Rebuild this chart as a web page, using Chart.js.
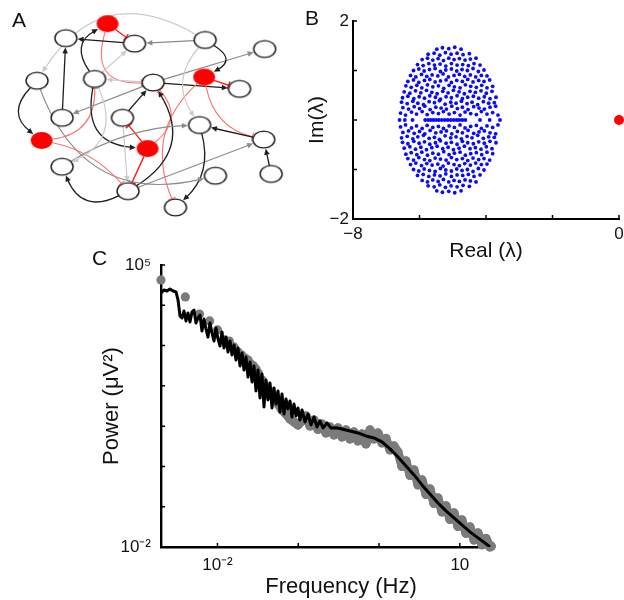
<!DOCTYPE html>
<html lang="en">
<head>
<meta charset="UTF-8">
<title>Network, eigenvalues and power spectrum</title>
<script src="https://cdn.jsdelivr.net/npm/chart.js@4"></script>
<style>
  body { margin: 0; background: #fff; width: 624px; height: 600px; position: relative; overflow: hidden;
         font-family: "Liberation Sans", Arial, sans-serif; color: #111; }
  .box { position: absolute; }
  .tag { position: absolute; font-size: 21px; line-height: 21px; }
  .cap { position: absolute; font-size: 22px; line-height: 22px; text-align: center; }
</style>
</head>
<body>
<div class="box" style="left:0px;top:0px"><canvas id="netChart" width="310" height="232"></canvas></div>
<div class="box" style="left:300px;top:0px"><canvas id="eigChart" width="329" height="270"></canvas></div>
<div class="box" style="left:90px;top:240px"><canvas id="psdChart" width="430" height="360"></canvas></div>
<div class="tag" style="left:12px;top:9px">A</div>
<div class="tag" style="left:305px;top:7px">B</div>
<div class="tag" style="left:92px;top:247px">C</div>
<div class="cap" style="left:191px;top:575px;width:300px">Frequency (Hz)</div>

<script>
// ---- panel A: network (node positions in layout units, red = inhibitory node)
const nodeX = [104, 59, 133, 209, 273, 28, 90, 153, 208, 246, 55, 120, 203, 33, 147, 272, 55, 220, 280, 126, 177];
const nodeY = [14, 30, 36, 32, 42, 77, 75, 79, 73, 86, 118, 118, 126, 143, 152, 142, 172, 182, 180, 199, 217];
const nodeRed = [1, 0, 0, 0, 0, 0, 0, 0, 1, 0, 0, 0, 0, 1, 1, 0, 0, 0, 0, 0, 0];

// [from, to, kind, bend]  k = black, g = grey, l = light grey, r/p = inhibitory
const edges = [
  [0, 2, 'r', 0], [6, 0, 'k', -0.55], [0, 7, 'p', 0.7], [3, 5, 'l', 0.48],
  [3, 2, 'g', 0], [2, 1, 'k', 0], [10, 1, 'k', 0], [6, 2, 'l', 0],
  [5, 13, 'k', 0.55], [13, 6, 'p', 0.45], [6, 14, 'k', 0.56], [7, 6, 'l', 0],
  [7, 10, 'g', 0], [7, 4, 'g', 0], [7, 9, 'k', 0], [3, 8, 'k', -0.85],
  [8, 9, 'r', 0], [8, 15, 'p', 0.32], [8, 20, 'p', 0.35], [3, 12, 'l', 0.38],
  [11, 7, 'k', 0], [14, 11, 'r', 0], [14, 19, 'r', 0], [14, 7, 'p', 0.52],
  [19, 7, 'k', 0.49], [11, 19, 'l', 0], [19, 16, 'k', -0.53], [19, 15, 'g', 0],
  [16, 12, 'g', -0.13], [15, 12, 'k', 0], [18, 15, 'k', 0], [12, 20, 'k', -0.3],
  [5, 17, 'g', 0.44], [13, 19, 'p', -0.17], [6, 16, 'l', -0.49]
];

// ---- panel B: eigenvalues (upper half plane; the conjugates mirror them)
const eigUpper = [
  [-6.57,0.14],[-6.42,0.10],[-6.24,0.16],[-6.09,0.12],[-5.92,0.17],[-5.77,0.11],[-5.60,0.15],[-5.43,0.13],[-5.28,0.17],[-5.11,0.12],
  [-4.95,0.15],[-4.78,0.10],[-4.63,0.16],[-4.46,0.13],[-4.29,0.11],[-4.14,0.17],[-3.97,0.12],[-3.80,0.15],[-3.64,0.10],
  [-6.50,0.25],[-6.33,0.22],[-6.16,0.27],[-6.00,0.23],[-5.84,0.28],[-5.68,0.21],[-5.51,0.26],[-5.35,0.24],[-5.19,0.22],
  [-5.03,0.28],[-4.86,0.23],[-4.71,0.26],[-4.54,0.21],[-4.37,0.27],[-4.21,0.24],[-4.05,0.22],[-3.88,0.26],[-3.71,0.28],
  [-6.54,0.36],[-6.37,0.33],[-6.20,0.38],[-6.05,0.34],[-5.88,0.31],[-5.71,0.37],[-5.55,0.35],[-5.40,0.39],[-5.23,0.32],
  [-5.06,0.36],[-4.90,0.34],[-4.74,0.38],[-4.57,0.33],[-4.42,0.36],[-4.25,0.31],[-4.08,0.37],[-3.92,0.34],[-3.75,0.35],
  [-6.51,0.45],[-6.35,0.48],[-6.17,0.43],[-6.01,0.47],[-5.85,0.44],[-5.69,0.49],[-5.52,0.46],[-5.37,0.42],[-5.20,0.47],
  [-5.04,0.45],[-4.87,0.49],[-4.71,0.43],[-4.55,0.46],[-4.38,0.48],[-4.22,0.44],[-4.05,0.47],[-3.88,0.43],[-3.70,0.46],
  [-6.46,0.57],[-6.29,0.54],[-6.12,0.59],[-5.96,0.55],[-5.79,0.60],[-5.63,0.56],[-5.47,0.53],[-5.30,0.58],[-5.14,0.55],
  [-4.98,0.60],[-4.81,0.57],[-4.65,0.53],[-4.48,0.58],[-4.32,0.56],[-4.15,0.59],[-3.99,0.54],[-3.82,0.58],
  [-6.41,0.69],[-6.25,0.66],[-6.08,0.70],[-5.93,0.65],[-5.76,0.71],[-5.60,0.67],[-5.43,0.69],[-5.27,0.64],[-5.11,0.70],
  [-4.95,0.67],[-4.78,0.65],[-4.62,0.71],[-4.46,0.68],[-4.29,0.66],[-4.13,0.70],[-3.97,0.65],[-3.80,0.68],
  [-6.35,0.78],[-6.18,0.81],[-6.02,0.76],[-5.85,0.80],[-5.69,0.82],[-5.53,0.77],[-5.37,0.79],[-5.20,0.81],
  [-5.04,0.76],[-4.88,0.80],[-4.71,0.78],[-4.55,0.82],[-4.39,0.77],[-4.22,0.80],[-4.06,0.78],[-3.89,0.81],
  [-6.27,0.90],[-6.11,0.87],[-5.94,0.92],[-5.78,0.88],[-5.62,0.91],[-5.45,0.89],[-5.29,0.93],[-5.13,0.87],
  [-4.96,0.90],[-4.80,0.92],[-4.64,0.88],[-4.47,0.91],[-4.31,0.87],[-4.14,0.90],[-3.97,0.89],
  [-6.18,1.00],[-6.02,1.03],[-5.86,0.99],[-5.70,1.02],[-5.53,1.04],[-5.37,0.98],[-5.21,1.01],
  [-5.04,1.03],[-4.88,0.99],[-4.72,1.02],[-4.56,1.00],[-4.39,1.04],[-4.23,0.98],[-4.06,1.01],
  [-6.06,1.12],[-5.89,1.10],[-5.72,1.14],[-5.55,1.11],[-5.38,1.13],[-5.21,1.09],
  [-5.04,1.14],[-4.87,1.11],[-4.70,1.12],[-4.53,1.10],[-4.36,1.14],[-4.18,1.11],
  [-5.92,1.22],[-5.76,1.25],[-5.60,1.21],[-5.44,1.24],[-5.28,1.20],[-5.12,1.25],
  [-4.96,1.22],[-4.80,1.24],[-4.63,1.21],[-4.47,1.23],[-4.30,1.25],
  [-5.74,1.33],[-5.56,1.35],[-5.39,1.31],[-5.22,1.36],[-5.05,1.33],[-4.87,1.35],[-4.69,1.32],[-4.50,1.34],
  [-5.48,1.43],[-5.31,1.46],[-5.12,1.44],[-4.94,1.47],[-4.75,1.43]
];
const realEig = [-6.60, -6.44, -6.21, -5.83, -5.74, -5.66, -5.58, -5.50, -5.42, -5.33, -5.24, -5.15,
                 -5.06, -4.97, -4.88, -4.80, -4.71, -4.62, -4.18, -3.89, -3.58];
const leadEig = [[0, 0]];
const reTicks = [-8, -6, -4, -2, 0];
const reLabels = ['\u22128', '', '', '', '0'];
const imTicks = [-2, -1, 0, 1, 2];
const imLabels = ['\u22122', '', '', '', '2'];

// ---- panel C: power spectrum
const blackFreq = [0.002,0.00218,0.00237,0.00258,0.00282,0.00307,0.00325,0.00344,
  0.00364,0.00385,0.00408,0.00432,0.00457,0.00484,0.00512,0.00542,0.00574,0.00608,
  0.00643,0.00681,0.00721,0.00763,0.00808,0.00856,0.00906,0.00959,0.01015,0.01075,
  0.01138,0.01204,0.01275,0.0135,0.01429,0.01513,0.01602,0.01695,0.01795,0.019,
  0.02012,0.0213,0.02254,0.02387,0.02527,0.02675,0.02831,0.02997,0.03173,
  0.0336,0.03557,0.03765,0.03986,0.0422,0.04467,0.0473,0.05007,0.053,0.05611,
  0.0594,0.06288,0.06657,0.07047,0.07461,0.07899,0.08362,0.08852,0.09371,0.0992,
  0.105,0.1112,0.1211,0.1319,0.1437,0.1565,0.1705,0.1857,0.2023,
  0.2268,0.2541,0.293,0.3478,0.4366,0.5483,0.6887,0.8651,1.087,1.366,1.715,2.154,
  2.706,3.399,4.269,5.362,6.735,8.459,10.62,13.34,16.76,20.46,23.6];
const blackPower = [2.02e4,2.40e4,2.26e4,2.54e4,2.26e4,2.14e4,1.35e4,5430,
  4840,7220,4080,6440,3850,6820,7650,3640,4840,5740,
  2300,4570,2580,1630,3640,2060,1300,2730,1460,977,
  2180,872,1630,694,1300,584,1035,439,872,312,
  655,248,521,166,392,125,312,74.7,248,
  50.1,197,30.0,140,44.7,118,28.3,88.7,35.6,74.7,
  22.5,63.0,20.1,47.3,26.7,42.2,16.9,35.6,17.9,28.3,
  14.2,25.2,12.7,20.1,10.7,16.9,9.55,13.5,9.02,
  12.0,9.02,9.1,8.52,7.60,6.78,5.71,5.10,4.05,2.72,1.72,1.03,
  0.615,0.348,0.208,0.124,0.0787,0.0527,0.0354,0.0237,0.0168,0.0126,0.01006];
const greyFreq = [0.002,0.004,0.006,0.008,0.010,0.012,0.014,0.016,0.018,0.020,0.022,0.024,0.026,0.028,0.030,0.032,
  0.03557,0.03986,0.04467,0.05007,0.05611,0.06288,0.07047,0.07899,0.08852,0.0992,
  0.1112,0.1246,0.1396,0.1565,0.1754,0.1966,0.2204,0.247,0.2768,0.3102,0.3478,0.3896,
  0.4366,0.4893,0.5483,0.6146,0.6887,0.772,0.8651,0.9696,1.087,1.218,1.366,1.53,
  1.715,1.922,2.154,2.414,2.706,3.032,3.399,3.808,4.269,4.782,5.362,6.008,6.735,7.546,
  8.459,9.48,10.62,11.91,13.34,14.96,16.76,18.79,21.06,23.6,24.5];
const greyPower = [4.25e4,1.61e4,6080,4080,2440,1380,1300,923,694,584,492,439,349,312,263,209,
  140,99.4,70.6,50.1,35.6,25.2,20.1,15.1,12.7,10.7,
  13.5,17.9,10.1,14.2,8.28,11.3,6.78,9.55,6.05,9.02,5.40,8.05,
  4.81,7.18,4.29,6.41,3.62,8.05,4.81,6.78,3.83,4.95,2.57,3.23,
  2.29,1.0,1.37,0.598,0.819,0.348,0.462,0.202,0.276,0.121,0.165,0.0743,0.105,0.0484,
  0.0702,0.0325,0.047,0.0218,0.0315,0.015,0.0224,0.0113,0.0163,0.0100,0.0105];
const freqTicks = [0.01, 0.1, 1, 10];
const freqLabels = ['10\u207B\u00B2', '', '', '10'];
const powerTicks = [0.01, 0.1, 1, 10, 100, 1e3, 1e4, 1e5];
const powerLabels = ['10\u207B\u00B2', '', '', '', '', '', '', '10\u2075'];
const GREY = '#7b7b7b';
const bandStart = 17;   // grey samples from here on merge into a continuous band

Chart.defaults.font.family = '"Liberation Sans", Arial, sans-serif';
Chart.defaults.color = '#111';

// short tick marks pointing into the plot
const innerTicks = {
  id: 'innerTicks',
  afterDatasetsDraw(chart, args, opts) {
    const { ctx, chartArea: a, scales: { x, y } } = chart;
    ctx.save();
    ctx.strokeStyle = '#000';
    ctx.lineWidth = opts.width;
    ctx.beginPath();
    x.ticks.forEach(t => {
      const p = x.getPixelForValue(t.value);
      ctx.moveTo(p, a.bottom); ctx.lineTo(p, a.bottom - opts.len);
    });
    y.ticks.forEach(t => {
      const p = y.getPixelForValue(t.value);
      ctx.moveTo(a.left, p); ctx.lineTo(a.left + opts.len, p);
    });
    ctx.stroke();
    ctx.restore();
  }
};

const edgeStyle = {
  k: { color: '#1e1e1e', width: 1.3, head: 'arrow' },
  g: { color: '#8c8c8c', width: 1.2, head: 'arrow' },
  l: { color: '#cbcbcb', width: 1.2, head: 'arrow' },
  r: { color: '#ff1e1e', width: 1.4, head: 'bar' },
  p: { color: '#ff7070', width: 1.1, head: 'bar' }
};

// curved links with arrow / bar heads, drawn under the nodes
const edgePlugin = {
  id: 'edges',
  beforeDatasetsDraw(chart) {
    const { ctx, scales: { x, y } } = chart;
    const at = i => [x.getPixelForValue(nodeX[i]), y.getPixelForValue(nodeY[i])];
    const rim = (ux, uy) => 1 / Math.sqrt((ux / 11.3) ** 2 + (uy / 8.8) ** 2);
    ctx.save();
    ctx.lineCap = 'round';
    edges.forEach(([a, b, kind, bend]) => {
      const st = edgeStyle[kind];
      const [x0, y0] = at(a), [x2, y2] = at(b);
      const cx = (x0 + x2) / 2 - (y2 - y0) * bend;
      const cy = (y0 + y2) / 2 + (x2 - x0) * bend;
      let ux = cx - x0, uy = cy - y0, m = Math.hypot(ux, uy) || 1;
      ux /= m; uy /= m;
      let vx = x2 - cx, vy = y2 - cy;
      m = Math.hypot(vx, vy) || 1;
      vx /= m; vy /= m;
      const r0 = rim(ux, uy), r2 = rim(vx, vy) + 0.5;
      const sx = x0 + ux * r0, sy = y0 + uy * r0;
      const ex = x2 - vx * r2, ey = y2 - vy * r2;
      const back = st.head === 'arrow' ? 4 : 0;
      ctx.strokeStyle = st.color;
      ctx.fillStyle = st.color;
      ctx.lineWidth = st.width;
      ctx.beginPath();
      ctx.moveTo(sx, sy);
      ctx.quadraticCurveTo(cx, cy, ex - vx * back, ey - vy * back);
      ctx.stroke();
      const px = -vy, py = vx;
      if (st.head === 'arrow') {
        ctx.beginPath();
        ctx.moveTo(ex, ey);
        ctx.lineTo(ex - vx * 6 + px * 2.8, ey - vy * 6 + py * 2.8);
        ctx.lineTo(ex - vx * 6 - px * 2.8, ey - vy * 6 - py * 2.8);
        ctx.closePath();
        ctx.fill();
      } else {
        ctx.beginPath();
        ctx.moveTo(ex + px * 3.5, ey + py * 3.5);
        ctx.lineTo(ex - px * 3.5, ey - py * 3.5);
        ctx.stroke();
      }
    });
    ctx.restore();
  }
};

function nodeImage(fill, stroke) {
  const c = document.createElement('canvas');
  c.width = 26; c.height = 21;
  const g = c.getContext('2d');
  g.beginPath();
  g.ellipse(13, 10.5, 11, 8.4, 0, 0, Math.PI * 2);
  g.fillStyle = fill;
  g.fill();
  if (stroke) { g.lineWidth = 1.4; g.strokeStyle = stroke; g.stroke(); }
  return c;
}
const whiteNode = nodeImage('#fff', '#1a1a1a');
const redNode = nodeImage('#ff0000', null);

const quiet = { legend: { display: false }, tooltip: { enabled: false } };

new Chart(document.getElementById('netChart'), {
  type: 'scatter',
  data: {
    datasets: [{
      data: nodeX.map((v, i) => ({ x: v, y: nodeY[i] })),
      pointStyle: c => (nodeRed[c.dataIndex] ? redNode : whiteNode),
      pointRadius: 10,
      clip: false
    }]
  },
  options: {
    responsive: false, animation: false, events: [],
    layout: { padding: 0 },
    plugins: quiet,
    scales: {
      x: { display: false, min: 0, max: 310 },
      y: { display: false, min: 0, max: 232, reverse: true }
    }
  },
  plugins: [edgePlugin]
});

const eigPoints = eigUpper.map(([re, im]) => ({ x: re, y: im }))
  .concat(eigUpper.map(([re, im]) => ({ x: re, y: -im })))
  .concat(realEig.map(re => ({ x: re, y: 0 })));

new Chart(document.getElementById('eigChart'), {
  type: 'scatter',
  data: {
    datasets: [
      { data: leadEig.map(([re, im]) => ({ x: re, y: im })), pointRadius: 5, backgroundColor: '#ff0000', borderWidth: 0, clip: false },
      { data: eigPoints, pointRadius: 1.9, backgroundColor: '#0a0aff', borderWidth: 0 }
    ]
  },
  options: {
    responsive: false, animation: false, events: [],
    layout: { padding: { top: 21, right: 10, left: 0, bottom: 0 } },
    plugins: { ...quiet, innerTicks: { len: 4, width: 1.5 } },
    scales: {
      x: {
        min: -8, max: 0,
        afterFit: s => { s.height = 51; },
        afterBuildTicks: s => { s.ticks = reTicks.map(v => ({ value: v })); },
        ticks: { callback: (v, i) => reLabels[i], font: { size: 17 }, padding: 5, maxRotation: 0, autoSkip: false, color: '#111' },
        grid: { display: false, drawTicks: false },
        border: { color: '#000', width: 2 },
        title: { display: true, text: 'Real (\u03BB)', font: { size: 21 }, color: '#111', padding: { top: 0, bottom: 6 } }
      },
      y: {
        min: -2, max: 2,
        afterFit: s => { s.width = 53; },
        afterBuildTicks: s => { s.ticks = imTicks.map(v => ({ value: v })); },
        ticks: { callback: (v, i) => imLabels[i], font: { size: 17 }, padding: 4, autoSkip: false, color: '#111' },
        grid: { display: false, drawTicks: false },
        border: { color: '#000', width: 2 },
        title: { display: true, text: 'Im(\u03BB)', font: { size: 21 }, color: '#111', padding: { top: 5, bottom: 0 } }
      }
    }
  },
  plugins: [innerTicks]
});

new Chart(document.getElementById('psdChart'), {
  type: 'scatter',
  data: {
    datasets: [
      { data: blackFreq.map((f, i) => ({ x: f, y: blackPower[i] })), showLine: true, borderColor: '#000',
        borderWidth: 3, pointRadius: 0, tension: 0, borderJoinStyle: 'round' },
      { data: greyFreq.map((f, i) => ({ x: f, y: greyPower[i] })), pointRadius: 4.6, backgroundColor: GREY,
        pointBorderWidth: 0, clip: 6, showLine: true, borderColor: GREY, borderWidth: 9, tension: 0,
        borderJoinStyle: 'round', borderCapStyle: 'round',
        segment: { borderColor: c => (c.p0DataIndex < bandStart ? 'rgba(0,0,0,0)' : GREY) } }
    ]
  },
  options: {
    responsive: false, animation: false, events: [],
    layout: { padding: { top: 25, right: 28, left: 0, bottom: 0 } },
    plugins: { ...quiet, innerTicks: { len: 4, width: 1.5 } },
    scales: {
      x: {
        type: 'logarithmic', min: 0.002, max: 25,
        afterFit: s => { s.height = 53; },
        afterBuildTicks: s => { s.ticks = freqTicks.map(v => ({ value: v })); },
        ticks: { callback: (v, i) => freqLabels[i], font: { size: 17 }, padding: 8, maxRotation: 0, autoSkip: false, color: '#111' },
        grid: { display: false, drawTicks: false },
        border: { color: '#000', width: 2.4 }
      },
      y: {
        type: 'logarithmic', min: 0.01, max: 1e5,
        afterFit: s => { s.width = 71; },
        afterBuildTicks: s => { s.ticks = powerTicks.map(v => ({ value: v })); },
        ticks: { callback: (v, i) => powerLabels[i], font: { size: 17 }, padding: 10, autoSkip: false, color: '#111' },
        grid: { display: false, drawTicks: false },
        border: { color: '#000', width: 2.4 },
        title: { display: true, text: 'Power (\u03BCV\u00B2)', font: { size: 22 }, color: '#111', padding: { top: 9, bottom: 0 } }
      }
    }
  },
  plugins: [innerTicks]
});
</script>
</body>
</html>
